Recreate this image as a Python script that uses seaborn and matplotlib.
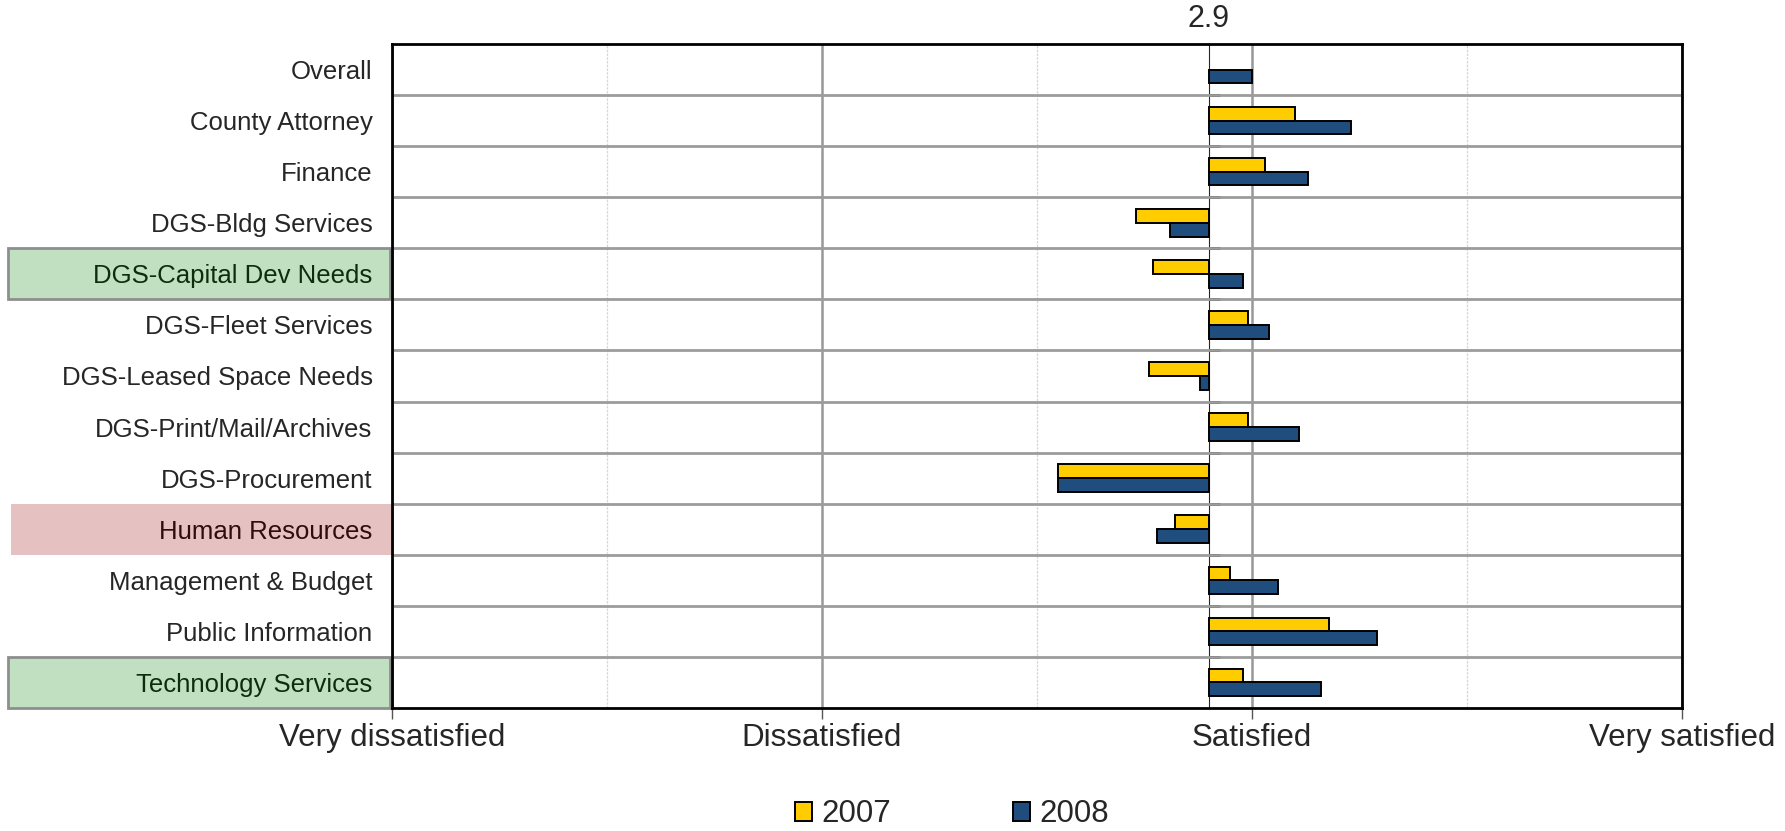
import numpy as np
import pandas as pd
import matplotlib
matplotlib.use("Agg")
import matplotlib.pyplot as plt
import matplotlib.transforms as mtransforms
from matplotlib.patches import Patch, Rectangle
import seaborn as sns

# ---- data -------------------------------------------------------------
DEPARTMENTS = [
    "Overall",
    "County Attorney",
    "Finance",
    "DGS-Bldg Services",
    "DGS-Capital Dev Needs",
    "DGS-Fleet Services",
    "DGS-Leased Space Needs",
    "DGS-Print/Mail/Archives",
    "DGS-Procurement",
    "Human Resources",
    "Management & Budget",
    "Public Information",
    "Technology Services",
]
SCORES_2007 = [np.nan, 3.10, 3.03, 2.73, 2.77, 2.99, 2.76, 2.99, 2.55, 2.82, 2.95, 3.18, 2.98]
SCORES_2008 = [3.00, 3.23, 3.13, 2.81, 2.98, 3.04, 2.88, 3.11, 2.55, 2.78, 3.06, 3.29, 3.16]
YEARS = ["2007", "2008"]
BASELINE = 2.9
SCALE_VALUES = [1, 2, 3, 4]
SCALE_LABELS = ["Very dissatisfied", "Dissatisfied", "Satisfied", "Very satisfied"]
IMPROVED = ["DGS-Capital Dev Needs", "Technology Services"]
DECLINED = ["Human Resources"]

COLORS = {"2007": "#FFCC00", "2008": "#1F4E7E"}

df = pd.DataFrame({
    "department": DEPARTMENTS * 2,
    "year": [YEARS[0]] * len(DEPARTMENTS) + [YEARS[1]] * len(DEPARTMENTS),
    "score": SCORES_2007 + SCORES_2008,
})
# bars grow out of the baseline score
df["offset"] = df["score"] - BASELINE

# ---- figure -----------------------------------------------------------
sns.set_style("white")
plt.rcParams["font.family"] = ["Liberation Sans", "DejaVu Sans"]

fig = plt.figure(figsize=(17.85, 8.31), dpi=100)
ax = fig.add_axes([0.2196, 0.1480, 0.7227, 0.7991])

sns.barplot(
    data=df, x="offset", y="department", hue="year",
    order=DEPARTMENTS, hue_order=YEARS, palette=COLORS,
    orient="h", width=0.54, errorbar=None, legend=False,
    edgecolor="black", linewidth=1.4, saturation=1, ax=ax,
)

xmin, xmax = SCALE_VALUES[0] - BASELINE, SCALE_VALUES[-1] - BASELINE
ax.set_xlim(xmin, xmax)
ax.set_ylim(len(DEPARTMENTS) - 0.5, -0.5)
ax.set_xlabel("")
ax.set_ylabel("")

# value scale
ax.set_xticks([v - BASELINE for v in SCALE_VALUES])
ax.set_xticklabels(SCALE_LABELS, fontsize=22.5)
ax.set_xticks([v + 0.5 - BASELINE for v in SCALE_VALUES[:-1]], minor=True)
ax.tick_params(axis="x", which="major", direction="out", length=8, width=1.0,
               color="#555555", pad=3, bottom=True)
ax.tick_params(axis="x", which="minor", length=0)

# department labels
ax.set_yticks(range(len(DEPARTMENTS)))
ax.set_yticklabels(DEPARTMENTS, fontsize=18.5)
ax.set_yticks([i + 0.5 for i in range(len(DEPARTMENTS) - 1)], minor=True)
ax.tick_params(axis="y", which="both", length=0, pad=14)

# grid
ax.set_axisbelow(True)
ax.grid(axis="x", which="major", color="#989898", linewidth=1.8)
ax.grid(axis="x", which="minor", color="#d6d6d6", linewidth=0.9, linestyle=(0, (2, 1)))
ax.grid(axis="y", which="major", visible=False)
ax.grid(axis="y", which="minor", color="#9c9c9c", linewidth=2.0)

for side in ["top", "bottom", "left", "right"]:
    ax.spines[side].set_visible(True)
    ax.spines[side].set_color("black")
    ax.spines[side].set_linewidth(2.0)

# baseline axis with row separator ticks
loc = (0 - xmin) / (xmax - xmin)
base = ax.secondary_yaxis(loc)
base.set_yticks([i + 0.5 for i in range(len(DEPARTMENTS) - 1)])
base.set_yticklabels([])
base.tick_params(axis="y", direction="out", length=8, width=2.0, color="black")
base.spines["left"].set_linewidth(1.6)
base.spines["left"].set_color("black")

ax.annotate(f"{BASELINE}", xy=(0, 1), xycoords=("data", "axes fraction"),
            xytext=(0, 7), textcoords="offset points",
            ha="center", va="bottom", fontsize=22)

# highlighted department labels
blend = mtransforms.blended_transform_factory(ax.transAxes, ax.transData)
for name in IMPROVED:
    i = DEPARTMENTS.index(name)
    ax.add_patch(Rectangle((-0.2977, i - 0.5), 0.2961, 1.0, transform=blend,
                           facecolor="#C1DFC1", edgecolor="#8E8E8E",
                           linewidth=2.0, clip_on=False, zorder=0.5))
for name in DECLINED:
    i = DEPARTMENTS.index(name)
    ax.add_patch(Rectangle((-0.2953, i - 0.5), 0.2953, 1.0, transform=blend,
                           facecolor="#E6C1C1", edgecolor="none",
                           clip_on=False, zorder=0.5))
for lbl in ax.get_yticklabels():
    if lbl.get_text() in IMPROVED:
        lbl.set_color("#0d2e0d")
    elif lbl.get_text() in DECLINED:
        lbl.set_color("#2e0d0d")

# legend
handles = [Patch(facecolor=COLORS[y], edgecolor="black", linewidth=1.4) for y in YEARS]
fig.legend(handles, YEARS, loc="lower center", bbox_to_anchor=(0.5333, 0.002),
           ncol=2, frameon=False, fontsize=22.5, handlelength=0.55,
           handleheight=0.55, handletextpad=0.3, columnspacing=3.9,
           borderaxespad=0, borderpad=0)

fig.savefig("out.png", dpi=100)
